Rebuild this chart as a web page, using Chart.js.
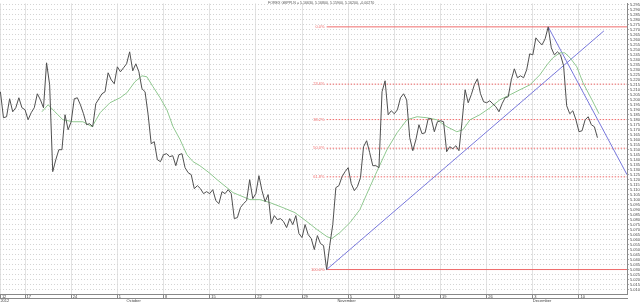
<!DOCTYPE html>
<html><head><meta charset="utf-8">
<script src="https://cdn.jsdelivr.net/npm/chart.js@4.4.0/dist/chart.umd.min.js"></script>
<style>html,body{margin:0;padding:0;background:#fff}canvas{display:block}</style>
</head><body>
<canvas id="c" width="640" height="302"></canvas>
<script>
// ---- data ----
const instrumentTitle = "FOREX GBPPLN = 5.16630, 5.16800, 5.15900, 5.16200, -0.00270";

// one close per 8-hour bar; bar 0 = 12 Sep 2012
const closes = [
5.208,5.182,5.183,5.201,5.188,5.192,5.202,5.192,5.190,5.180,
5.187,5.192,5.206,5.200,5.192,5.237,5.215,5.128,5.140,5.150,
5.150,5.185,5.170,5.178,5.201,5.202,5.195,5.186,5.175,5.176,
5.173,5.196,5.201,5.206,5.208,5.227,5.220,5.216,5.233,5.228,
5.232,5.236,5.248,5.229,5.236,5.228,5.211,5.208,5.185,5.156,
5.158,5.140,5.138,5.145,5.146,5.143,5.144,5.134,5.145,5.146,
5.132,5.127,5.125,5.111,5.114,5.111,5.106,5.108,5.106,5.110,
5.099,5.096,5.108,5.106,5.110,5.106,5.081,5.082,5.092,5.096,
5.099,5.120,5.101,5.106,5.124,5.109,5.098,5.105,5.076,5.084,
5.080,5.081,5.078,5.072,5.081,5.075,5.084,5.066,5.062,5.075,
5.065,5.061,5.050,5.064,5.056,5.054,5.030,5.054,5.075,5.112,
5.114,5.123,5.128,5.132,5.116,5.109,5.113,5.122,5.153,5.159,
5.147,5.134,5.134,5.132,5.208,5.219,5.185,5.189,5.186,5.190,
5.202,5.206,5.200,5.162,5.149,5.160,5.175,5.166,5.167,5.181,
5.181,5.168,5.178,5.179,5.178,5.148,5.153,5.151,5.154,5.149,
5.178,5.210,5.197,5.205,5.215,5.221,5.206,5.198,5.197,5.199,
5.196,5.193,5.188,5.196,5.202,5.203,5.220,5.231,5.222,5.224,
5.222,5.230,5.246,5.245,5.262,5.258,5.255,5.261,5.273,5.252,
5.245,5.248,5.245,5.234,5.194,5.186,5.189,5.180,5.168,5.169,
5.180,5.183,5.175,5.173,5.162
];

// moving average (green), sampled positions
const maBars = [13.5,15.5,17.7,20.3,23.6,26.8,29.8,32.4,35.6,38.9,41.1,43.7,46.0,47.6,49.6,51.9,54.1,56.1,58.4,60.6,62.6,64.8,67.8,70.4,75.6,81.1,84.3,87.6,91.8,95.7,99.6,102.9,106.1,107.7,110.3,113.6,116.8,120.1,122.3,125.6,128.9,132.1,135.4,138.6,141.8,145.1,148.3,150.3,152.6,155.8,159.1,162.3,165.6,168.8,172.1,175.3,177.6,179.5,181.8,183.4,185.1,187.3,189.3,192.2,194.5];
const maValues = [5.188,5.195,5.188,5.180,5.178,5.178,5.173,5.187,5.197,5.202,5.207,5.218,5.224,5.223,5.213,5.202,5.190,5.173,5.160,5.145,5.138,5.134,5.127,5.120,5.107,5.100,5.100,5.097,5.092,5.087,5.078,5.070,5.063,5.061,5.067,5.077,5.090,5.113,5.128,5.150,5.167,5.180,5.183,5.182,5.180,5.173,5.168,5.170,5.180,5.185,5.192,5.200,5.205,5.210,5.215,5.225,5.235,5.242,5.247,5.247,5.242,5.233,5.217,5.200,5.186];

// trend lines
const trendUpBars = [106, 196.1];
const trendUpValues = [5.030, 5.269];
const trendDownBars = [178, 203.6];
const trendDownValues = [5.273, 5.125];

// fibonacci retracement
const fibRatios = [0, 0.236, 0.382, 0.5, 0.618, 1];
const fibLabels = ["0.0%", "23.6%", "38.2%", "50.0%", "61.8%", "100.0%"];

// axis ticks
const weekTickBars = [0, 8, 23, 38, 53, 68, 83, 98, 113, 128, 143, 158, 173, 188];
const weekTickLabels = ["12", "17", "24", "1", "8", "15", "22", "29", "5", "12", "19", "26", "3", "10"];
const monthTickBars = [0, 41, 109.5, 173];
const monthTickLabels = ["2012", "October", "November", "December"];
const xMin = -0.13, xMax = 203.6;
const yMin = 5.0055, yMax = 5.2965, yStep = 0.005;

// ---- build ----
const pricePts = closes.map((v, i) => ({x: i, y: v}));
const maPts = maBars.map((b, i) => ({x: b, y: maValues[i]}));
const hi = Math.max(...closes), lo = Math.min(...closes);
const loBar = closes.indexOf(lo);
const fibLevels = fibRatios.map(r => hi - r * (hi - lo));

const FIB_RED = '#ef6b6b';
const datasets = [
  {data: pricePts, borderColor: '#505050', borderWidth: 1},
  {data: maPts, borderColor: '#90c890', borderWidth: 1},
  {data: trendUpBars.map((b, i) => ({x: b, y: trendUpValues[i]})), borderColor: '#7878dc', borderWidth: 1},
  {data: trendDownBars.map((b, i) => ({x: b, y: trendDownValues[i]})), borderColor: '#7878dc', borderWidth: 1}
];
fibLevels.forEach((lv, k) => {
  const solid = (k === 0 || k === fibLevels.length - 1);
  datasets.push({
    data: [{x: loBar, y: lv}, {x: xMax, y: lv}],
    borderColor: FIB_RED, borderWidth: 1,
    borderDash: solid ? [] : [1.5, 1.5]
  });
});
datasets.forEach(d => { d.pointRadius = 0; d.tension = 0; d.fill = false; });

const overlay = {
  id: 'overlay',
  afterDatasetsDraw(chart) {
    const {ctx, scales: {x, y}} = chart;
    ctx.save();
    ctx.font = '4px "Liberation Sans", Arial, sans-serif';
    ctx.fillStyle = FIB_RED;
    ctx.textAlign = 'right';
    ctx.textBaseline = 'middle';
    const lx = x.getPixelForValue(loBar) - 2;
    fibLevels.forEach((lv, k) => ctx.fillText(fibLabels[k], lx, y.getPixelForValue(lv)));
    ctx.fillStyle = '#555';
    ctx.textAlign = 'left';
    ctx.textBaseline = 'top';
    ctx.font = '3.6px "Liberation Sans", Arial, sans-serif';
    ctx.fillText(instrumentTitle, 268, 1);
    ctx.restore();
  }
};

new Chart(document.getElementById('c'), {
  type: 'line',
  data: {datasets},
  plugins: [overlay],
  options: {
    responsive: false, animation: false, devicePixelRatio: 1,
    layout: {padding: {top: 3, left: 0, right: 0, bottom: 0}},
    plugins: {legend: {display: false}, tooltip: {enabled: false}, title: {display: false}},
    scales: {
      x: {
        type: 'linear', position: 'bottom', min: xMin, max: xMax,
        afterBuildTicks: s => { s.ticks = weekTickBars.map(v => ({value: v})); },
        afterFit: s => { s.height = 4; },
        grid: {color: '#e2e2e2', lineWidth: 1, drawTicks: true, tickLength: 4, tickColor: '#888'},
        border: {display: true, color: '#888'},
        ticks: {
          autoSkip: false, maxRotation: 0, align: 'start', padding: -4, labelOffset: 1.5,
          font: {size: 4, family: '"Liberation Sans", Arial, sans-serif'}, color: '#444',
          callback: (v, i) => weekTickLabels[i]
        }
      },
      x2: {
        type: 'linear', position: 'bottom', min: xMin, max: xMax,
        afterBuildTicks: s => { s.ticks = monthTickBars.map(v => ({value: v})); },
        afterFit: s => { s.height = 4; },
        grid: {drawOnChartArea: false, drawTicks: false},
        border: {display: true, color: '#888'},
        ticks: {
          autoSkip: false, maxRotation: 0, align: 'start', padding: 0,
          font: {size: 4, family: '"Liberation Sans", Arial, sans-serif'}, color: '#444',
          callback: (v, i) => monthTickLabels[i]
        }
      },
      y: {
        type: 'linear', position: 'right', min: yMin, max: yMax,
        afterFit: s => { s.width = 13; },
        grid: {color: '#d4d4d4', lineWidth: 1, drawTicks: true, tickLength: 2, tickColor: '#aaa'},
        border: {display: true, color: '#888', dash: [1, 2]},
        ticks: {
          stepSize: yStep, includeBounds: false, autoSkip: false, maxTicksLimit: 200,
          padding: 1, font: {size: 4, family: '"Liberation Sans", Arial, sans-serif'}, color: '#444',
          callback: v => v.toFixed(3)
        }
      }
    }
  }
});
</script>
</body></html>
